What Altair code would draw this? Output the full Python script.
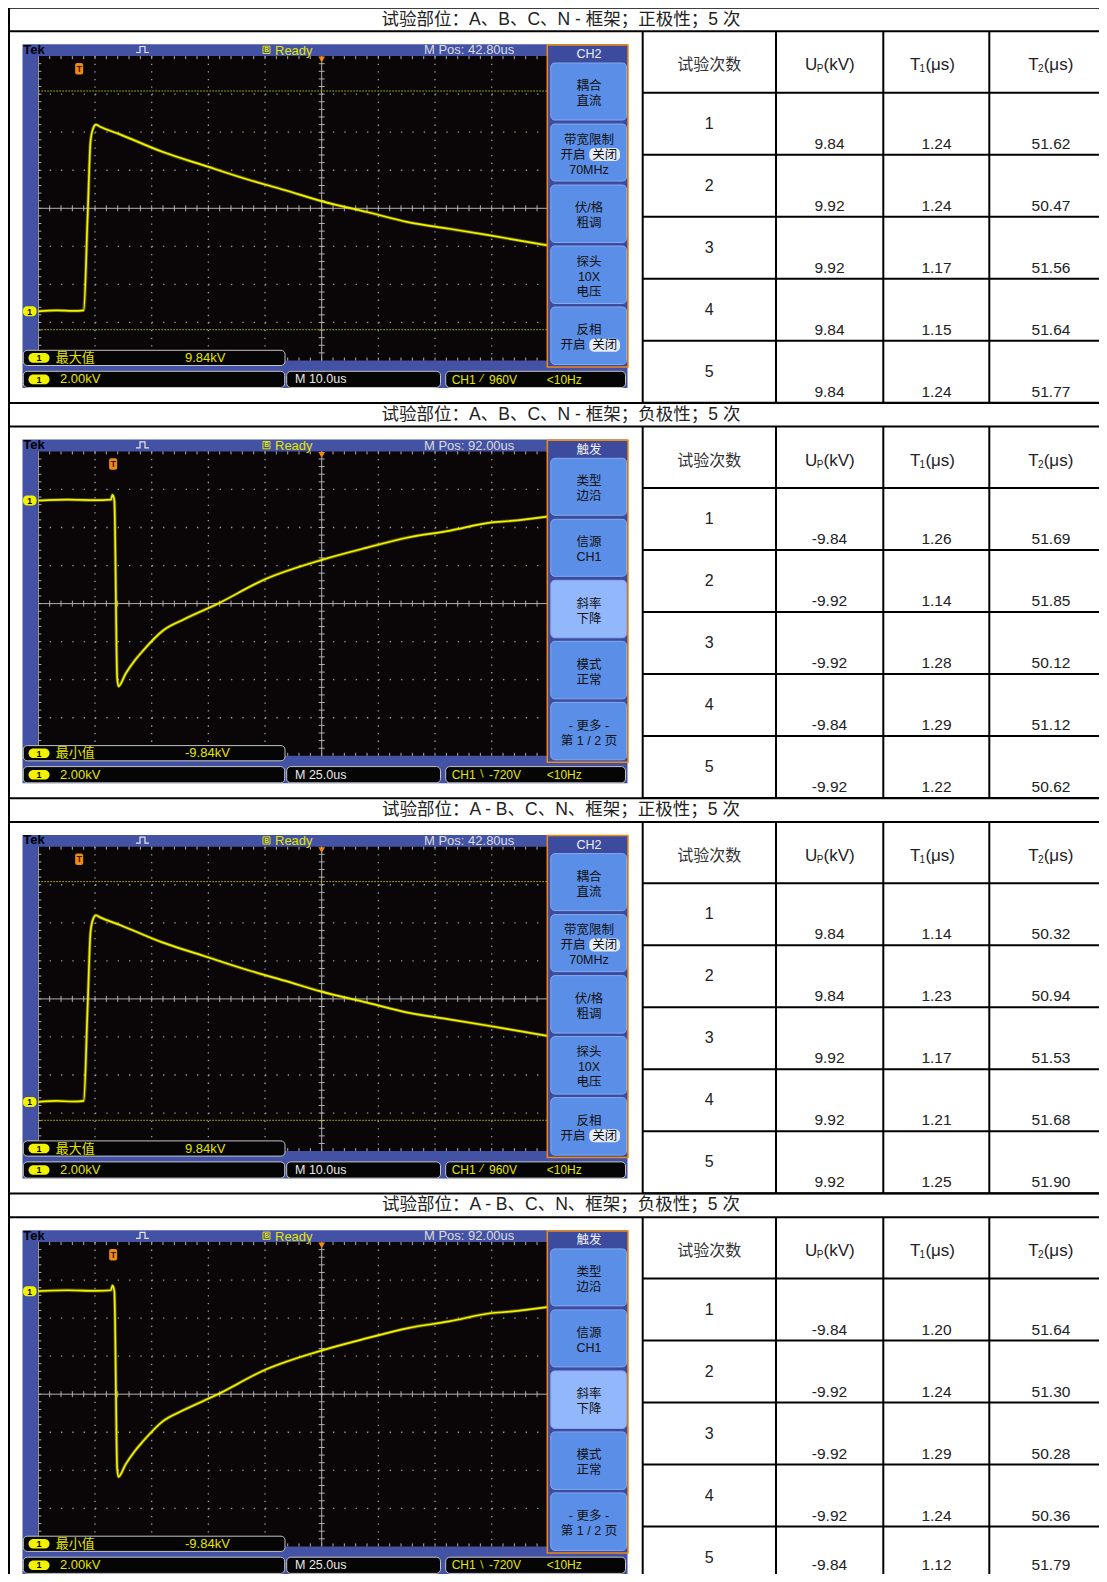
import altair as alt
import pandas as pd

# ---------------- values ----------------
section_titles = [
    "试验部位：A、B、C、N - 框架；正极性；5 次",
    "试验部位：A、B、C、N - 框架；负极性；5 次",
    "试验部位：A - B、C、N、框架；正极性；5 次",
    "试验部位：A - B、C、N、框架；负极性；5 次",
]
test_numbers = ["1", "2", "3", "4", "5"]
up_kv = [
    ["9.84", "9.92", "9.92", "9.84", "9.84"],
    ["-9.84", "-9.92", "-9.92", "-9.84", "-9.92"],
    ["9.84", "9.84", "9.92", "9.92", "9.92"],
    ["-9.84", "-9.92", "-9.92", "-9.92", "-9.84"],
]
t1_us = [
    ["1.24", "1.24", "1.17", "1.15", "1.24"],
    ["1.26", "1.14", "1.28", "1.29", "1.22"],
    ["1.14", "1.23", "1.17", "1.21", "1.25"],
    ["1.20", "1.24", "1.29", "1.24", "1.12"],
]
t2_us = [
    ["51.62", "50.47", "51.56", "51.64", "51.77"],
    ["51.69", "51.85", "50.12", "51.12", "50.62"],
    ["50.32", "50.94", "51.53", "51.68", "51.90"],
    ["51.64", "51.30", "50.28", "50.36", "51.79"],
]

# oscilloscope settings
scope_polarity = ["pos", "neg", "pos", "neg"]
m_pos_us = [42.80, 92.00, 42.80, 92.00]
m_pos_text = ["M Pos: 42.80us", "M Pos: 92.00us", "M Pos: 42.80us", "M Pos: 92.00us"]
time_per_div_us = [10.0, 25.0, 10.0, 25.0]
time_text = ["M 10.0us", "M 25.0us", "M 10.0us", "M 25.0us"]
volt_per_div_kv = 2.00
volt_text = "2.00kV"
extreme_label = ["最大值", "最小值", "最大值", "最小值"]
extreme_kv = ["9.84kV", "-9.84kV", "9.84kV", "-9.84kV"]
trigger_source = "CH1"
trigger_slope = ["⁄", "∖", "⁄", "∖"]
trigger_level = ["960V", "-720V", "960V", "-720V"]
freq_text = "<10Hz"
menu_title = {"pos": "CH2", "neg": "触发"}
menu_items = {
    "pos": [["耦合", "直流"], ["带宽限制", "开启|关闭", "70MHz"], ["伏/格", "粗调"],
            ["探头", "10X", "电压"], ["反相", "开启|关闭"]],
    "neg": [["类型", "边沿"], ["信源", "CH1"], ["斜率", "下降"], ["模式", "正常"],
            ["- 更多 -", "第 1 / 2 页"]],
}
menu_selected = {"pos": -1, "neg": 2}

# waveforms: time (us, relative to trigger) and voltage (kV)
pos_t = [-7.2, -4.0, -1.0, 0.8, 1.5, 2.0, 2.45, 2.95, 3.7, 7.2, 14.8, 22.0, 29.3,
         36.4, 42.9, 50.8, 58.0, 65.3, 72.5, 77.5, 82.6]
pos_v = [0.00, 0.05, 0.02, 0.05, 5.04, 8.90, 9.60, 9.81, 9.70, 9.30, 8.37, 7.67, 6.97,
         6.36, 5.78, 5.22, 4.69, 4.34, 3.99, 3.73, 3.47]
neg_t = [-33.0, -20.0, -8.0, -1.0, -0.3, 0.53, 1.77, 2.34, 5.5, 9.5, 13.1, 22.0, 31.1,
         45.5, 67.1, 92.5, 112.1, 130.1, 148.2, 166.3, 175.2, 191.4]
neg_v = [0.00, 0.05, 0.02, 0.05, 0.30, 0.00, -9.30, -9.76, -9.10, -8.41, -7.90, -6.83, -6.25,
         -5.46, -4.13, -3.10, -2.47, -1.94, -1.59, -1.16, -1.07, -0.84]

# ---------------- layout (pixel geometry of the page) ----------------
W, H = 1091, 1566
OX, OY = 8.0, 6.0
PITCH = 395.3
S0 = 5.7
FONT = "Liberation Sans, Noto Sans CJK SC, sans-serif"
CJK = "Noto Sans CJK SC, sans-serif"

BLUE = "#4352a4"
PANEL = "#3c4b9e"
BLACK = "#0a0608"
BTN = "#5b8ee6"
BTN_SEL = "#92b7fa"
BTN_EDGE = "#86aaf0"
ORANGE = "#f08a10"
TRACE = "#f2f200"
YTXT = "#e4e400"
GRID = "#a0a0a0"
CENTER = "#b0b0b0"
INK = "#222222"

GCX, GDX = 321.7, 56.67
GCY0, GDY = 206.3, 38.05
GX0, GX1 = GCX - 5 * GDX, GCX + 5 * GDX
GR = 547.3
GROUND_DIV = 2.707
COLS = [642.7, 776.0, 883.3, 989.3, 1111.0]


def X(v):
    return round(v - OX, 2)


def Y(v):
    return round(v - OY, 2)


groups = {}
extra = []


def add(stage, kind, style, row):
    groups.setdefault((stage, kind, style), []).append(row)


def rect(stage, x0, x1, y0, y1, fill, stroke="none", r=0, sw=0):
    add(stage, "rect", (r, sw), dict(x=X(x0), x2=X(x1), y=Y(y0), y2=Y(y1), f=fill, s=stroke))


def rule(stage, x0, x1, y0, y1, color, w=1.0, dash=None):
    add(stage, "rule", (w, tuple(dash) if dash else ()),
        dict(x=X(x0), x2=X(x1), y=Y(y0), y2=Y(y1), c=color))


def text(x, y, t, color, size, align="center", font=FONT, weight="normal", stage=6):
    yy = min(Y(y), H - 9)
    add(stage, "text", (align, font, weight), dict(x=X(x), y=yy, t=str(t), c=color, s=size))


def polyline(stage, pts, color, w, gid):
    for i, (px, py) in enumerate(pts):
        add(stage, "line", (w,), dict(x=X(px), y=Y(py), c=color, g=gid, o=i))


def point(stage, x, y, color, size, shape):
    add(stage, "point", (shape,), dict(x=X(x), y=Y(y), c=color, s=size))


def scope(k):
    dy = k * PITCH
    pol = scope_polarity[k]
    pos = pol == "pos"
    gcy = GCY0 + dy
    gt, gb = gcy - 4 * GDY, gcy + 4 * GDY
    # frame and screen
    rect(0, 22.5, 627.5, 42.3 + dy, 386.0 + dy, BLUE)
    rect(0, 37.7, GR, gt, gb, BLACK)
    # graticule
    for i in range(-4, 5):
        x = GCX + i * GDX
        if i == 0 or x >= GR:
            continue
        rule(1, x, x, gt, gb, GRID, 1.3, [1.3, GDY / 5 - 1.3])
    for j in range(-3, 4):
        if j == 0:
            continue
        y = gcy + j * GDY
        rule(1, GX0, GR, y, y, GRID, 1.3, [1.3, GDX / 5 - 1.3])
    rule(1, GCX, GCX, gt, gb, CENTER, 1.0)
    rule(1, GX0, GR, gcy, gcy, CENTER, 1.0)
    rule(1, GX0, GX0, gt, gb, CENTER, 1.0)
    for n in range(1, 40):
        y = gt + n * GDY / 5
        rule(1, GCX - 3, GCX + 3, y, y, CENTER, 1.0)
        rule(1, GX0, GX0 + 3, y, y, CENTER, 1.0)
    for n in range(1, 50):
        x = GX0 + n * GDX / 5
        if x >= GR - 1:
            break
        rule(1, x, x, gcy - 3, gcy + 3, CENTER, 1.0)
        rule(1, x, x, gt, gt + 3, CENTER, 1.0)
        rule(1, x, x, gb - 3, gb, CENTER, 1.0)
    if pos:
        for off in (-117.3, 121.4):
            rule(1, GX0, GR, gcy + off, gcy + off, "#c4c400", 1.0, [1.5, 1.5])

    # top status bar
    text(23.3, 47.7 + dy, "Tek", "#000000", 13, align="left", weight="bold")
    polyline(4, [(136, 50.5 + dy), (140, 50.5 + dy), (140, 44.5 + dy), (145, 44.5 + dy),
                 (145, 50.5 + dy), (149, 50.5 + dy)], "#e8e8e8", 1.2, f"p{k}")
    rect(3, 263, 270, 44.2 + dy, 51.5 + dy, "none", YTXT, 0, 1)
    text(266.5, 48 + dy, "B", YTXT, 6.5, weight="bold")
    text(275, 48.6 + dy, "Ready", YTXT, 13, align="left")
    text(424, 48.3 + dy, m_pos_text[k], "#dcdcdc", 13, align="left")

    # trigger position marker and trigger point
    xt = GCX - m_pos_us[k] / time_per_div_us[k] * GDX
    rect(3, xt - 4, xt + 4, 61 + dy, 72.5 + dy, ORANGE, "none", 2, 0)
    text(xt, 66.8 + dy, "T", "#3a1800", 9, weight="bold")
    point(3, GCX, 57.5 + dy, ORANGE, 45, "triangle-down")

    # ground marker
    gy = gcy + (GROUND_DIV if pos else -GROUND_DIV) * GDY
    rect(3, 23, 36.5, gy - 5, gy + 5, TRACE, "none", 4, 0)
    text(29.5, gy + 0.3, "1", "#000000", 8.5, weight="bold")

    # side menu
    rect(3, 547.3, 628, 43 + dy, 365 + dy, PANEL, ORANGE, 0, 1.5)
    text(589, 52.3 + dy, menu_title[pol], "#f0f0f0", 12.5)
    btn_y = [(61, 118), (122, 179), (183, 240.5), (244, 301.5), (305, 362.5)]
    for b, (y0, y1) in enumerate(btn_y):
        fill = BTN_SEL if b == menu_selected[pol] else BTN
        rect(3, 550.8, 626.5, y0 + dy, y1 + dy, fill, BTN_EDGE, 4, 1)
        lines = menu_items[pol][b]
        c = (y0 + y1) / 2 + 2 + dy
        n = len(lines)
        for li, s in enumerate(lines):
            yy = c + (li - (n - 1) / 2) * 15
            if "|" in s:
                a, bb = s.split("|")
                text(573, yy, a, "#111111", 12.5)
                rect(3, 589.3, 620, yy - 6.5, yy + 6.5, "#e6ecf7", "none", 5, 0)
                text(604.7, yy, bb, "#111111", 12.5)
            else:
                text(589, yy, s, "#111111", 12.5)

    # measurement + status boxes
    rect(3, 23.3, 285, 348.3 + dy, 363.5 + dy, "#050505", "#c4c4c4", 4, 1)
    for x0, x1 in [(23.3, 284.7), (286.7, 440.5), (445.7, 625.5)]:
        rect(3, x0, x1, 369.3 + dy, 385.5 + dy, "#050505", "#c4c4c4", 4, 1)
    for yy in (355.9, 377.4):
        rect(3, 28.5, 49.5, yy - 4.8 + dy, yy + 4.8 + dy, TRACE, "none", 4.8, 0)
        text(39, yy + 0.3 + dy, "1", "#000000", 9, weight="bold")
    text(55.7, 356 + dy, extreme_label[k], YTXT, 13, align="left")
    text(185, 356 + dy, extreme_kv[k], YTXT, 13, align="left")
    text(60, 377.4 + dy, volt_text, YTXT, 13, align="left")
    text(295, 377.4 + dy, time_text[k], "#e8e8e8", 12.5, align="left")
    text(451.7, 377.6 + dy, trigger_source, YTXT, 12, align="left")
    text(481.5, 376.8 + dy, trigger_slope[k], YTXT, 10, font="DejaVu Sans")
    text(489, 377.6 + dy, trigger_level[k], YTXT, 12, align="left")
    text(546.7, 377.6 + dy, freq_text, YTXT, 12, align="left")

    # waveform through time / voltage scales
    t, v = (pos_t, pos_v) if pos else (neg_t, neg_v)
    df = pd.DataFrame({"t": t, "v": v, "i": list(range(len(t)))})
    tc, td = m_pos_us[k], time_per_div_us[k]
    vc = (1 if pos else -1) * GROUND_DIV * volt_per_div_kv
    xs = alt.Scale(domain=[tc - 5 * td, tc + 5 * td], range=[X(GX0), X(GX1)], nice=False, zero=False)
    ys = alt.Scale(domain=[vc - 4 * volt_per_div_kv, vc + 4 * volt_per_div_kv],
                   range=[Y(gb), Y(gt)], nice=False, zero=False)
    enc = dict(x=alt.X("t:Q", scale=xs, axis=None), y=alt.Y("v:Q", scale=ys, axis=None), order="i:Q")
    glow = alt.Chart(df).mark_line(color=TRACE, strokeWidth=3.4, opacity=0.35,
                                   interpolate="monotone").encode(**enc)
    wave = alt.Chart(df).mark_line(color=TRACE, strokeWidth=1.7,
                                   interpolate="monotone").encode(**enc)
    extra.append((2, glow))
    extra.append((2, wave))


def table(k):
    S = S0 + k * PITCH
    rule(5, 9, 1111, S, S, "#000000", 2)
    rule(5, 9, 1111, S + 23.6, S + 23.6, "#000000", 2)
    for i in range(6):
        y = S + 85 + 62 * i
        rule(5, COLS[0], 1111, y, y, "#000000", 2)
    for c in COLS[:4]:
        rule(5, c, c, S + 23.6, S + 395.3, "#000000", 2)
    text(561, S + 11.8, section_titles[k], INK, 17.5)
    hy = S + 57.6
    text(709.3, hy, "试验次数", "#333333", 16, font=CJK)
    for base, sub, rest, x0 in [("U", "P", "(kV)", 805), ("T", "1", "(μs)", 910), ("T", "2", "(μs)", 1028.3)]:
        text(x0, hy, base, INK, 17, align="left")
        xs = x0 + (11.8 if base == "U" else 9.6)
        text(xs, hy + 4, sub, INK, 10, align="left")
        text(xs + (6.8 if sub == "P" else 5.8), hy, rest, INK, 17, align="left")
    centers = [709.3, 829.5, 936.5, 1051]
    for i in range(5):
        top = S + 85 + 62 * i
        text(centers[0], top + 31, test_numbers[i], INK, 16)
        text(centers[1], top + 51, up_kv[k][i], INK, 15.5)
        text(centers[2], top + 51, t1_us[k][i], INK, 15.5)
        text(centers[3], top + 51, t2_us[k][i], INK, 15.5)


for k in range(4):
    scope(k)
    table(k)
rule(5, 9, 9, S0, S0 + 4 * PITCH, "#000000", 2)


def make(kind, style, rows):
    df = pd.DataFrame(rows)
    base = alt.Chart(df)
    xq = alt.X("x:Q", scale=None, axis=None)
    yq = alt.Y("y:Q", scale=None, axis=None)
    if kind == "rect":
        r, sw = style
        m = base.mark_rect(cornerRadius=r, strokeWidth=sw) if r else base.mark_rect(strokeWidth=sw)
        return m.encode(x=xq, x2="x2:Q", y=yq, y2="y2:Q",
                        fill=alt.Fill("f:N", scale=None), stroke=alt.Stroke("s:N", scale=None))
    if kind == "rule":
        w, dash = style
        m = base.mark_rule(strokeWidth=w, strokeDash=list(dash)) if dash else base.mark_rule(strokeWidth=w)
        return m.encode(x=xq, x2="x2:Q", y=yq, y2="y2:Q", color=alt.Color("c:N", scale=None))
    if kind == "text":
        align, font, weight = style
        return base.mark_text(align=align, baseline="middle", font=font, fontWeight=weight).encode(
            x=xq, y=yq, text="t:N", color=alt.Color("c:N", scale=None), size=alt.Size("s:Q", scale=None))
    if kind == "line":
        (w,) = style
        return base.mark_line(strokeWidth=w).encode(
            x=xq, y=yq, detail="g:N", order="o:Q", color=alt.Color("c:N", scale=None))
    (shape,) = style
    return base.mark_point(shape=shape, filled=True, opacity=1).encode(
        x=xq, y=yq, color=alt.Color("c:N", scale=None), size=alt.Size("s:Q", scale=None))


items = [(st, make(kind, style, rows)) for (st, kind, style), rows in groups.items()] + extra
items.sort(key=lambda p: p[0])
layers = [c for _, c in items]

chart = alt.layer(*layers).resolve_scale(x="independent", y="independent").properties(
    width=W, height=H, padding=0, autosize=alt.AutoSizeParams(type="none"), background="white"
).configure_view(strokeWidth=0)

chart.save("out.html", embed_options={"renderer": "svg", "actions": False})
